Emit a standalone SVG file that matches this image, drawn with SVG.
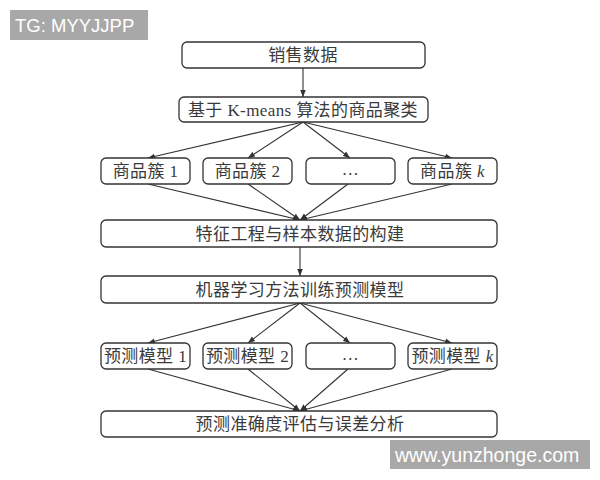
<svg xmlns="http://www.w3.org/2000/svg" width="600" height="480" viewBox="0 0 600 480">
<defs>
<style>
.box{fill:#fff;stroke:#333;stroke-width:1.3}
.t{font-family:"Liberation Serif","Noto Sans CJK SC",serif;font-size:17px;fill:#3a3a3a;text-anchor:middle;letter-spacing:0.4px}
.c{stroke:#333;stroke-width:1.1;fill:none}
.wm{fill:#a8a8a8}
.wt{font-family:"Liberation Sans",Arial,sans-serif;fill:#fff}
</style>
<marker id="ah" viewBox="0 0 10 10" refX="10" refY="5" markerWidth="7" markerHeight="7" orient="auto" markerUnits="userSpaceOnUse">
<path d="M0,1 L10,5 L0,9 Z" fill="#333"/>
</marker>
</defs>
<rect width="600" height="480" fill="#fff"/>
<g id="watermark-top"><rect class="wm" x="10" y="10" width="138" height="30"/><text class="wt" x="15" y="32" font-size="18.5">TG: MYYJJPP</text></g>
<g id="watermark-bottom"><rect class="wm" x="390" y="440" width="200" height="29"/><text class="wt" x="395" y="462" font-size="19.5">www.yunzhonge.com</text></g>
<g id="connectors">
<line class="c" x1="303" y1="68" x2="303" y2="97" marker-end="url(#ah)"/>
<line class="c" x1="303" y1="122" x2="148" y2="158" marker-end="url(#ah)"/>
<line class="c" x1="303" y1="122" x2="248" y2="158" marker-end="url(#ah)"/>
<line class="c" x1="303" y1="122" x2="350" y2="158" marker-end="url(#ah)"/>
<line class="c" x1="303" y1="122" x2="452" y2="158" marker-end="url(#ah)"/>
<line class="c" x1="148" y1="184" x2="300" y2="220" marker-end="url(#ah)"/>
<line class="c" x1="248" y1="184" x2="300" y2="220" marker-end="url(#ah)"/>
<line class="c" x1="348" y1="184" x2="300" y2="220" marker-end="url(#ah)"/>
<line class="c" x1="452" y1="184" x2="300" y2="220" marker-end="url(#ah)"/>
<line class="c" x1="300" y1="247" x2="300" y2="276" marker-end="url(#ah)"/>
<line class="c" x1="300" y1="303" x2="148" y2="343" marker-end="url(#ah)"/>
<line class="c" x1="300" y1="303" x2="248" y2="343" marker-end="url(#ah)"/>
<line class="c" x1="300" y1="303" x2="350" y2="343" marker-end="url(#ah)"/>
<line class="c" x1="300" y1="303" x2="452" y2="343" marker-end="url(#ah)"/>
<line class="c" x1="148" y1="369" x2="300" y2="411" marker-end="url(#ah)"/>
<line class="c" x1="248" y1="369" x2="300" y2="411" marker-end="url(#ah)"/>
<line class="c" x1="348" y1="369" x2="300" y2="411" marker-end="url(#ah)"/>
<line class="c" x1="452" y1="369" x2="300" y2="411" marker-end="url(#ah)"/>
</g>
<g id="n-sales"><rect class="box" x="182" y="42" width="243" height="26" rx="5"/><text class="t" x="303" y="61">销售数据</text></g>
<g id="n-kmeans"><rect class="box" x="179" y="97" width="249" height="25" rx="5"/><text class="t" x="303" y="115.5">基于 K-means 算法的商品聚类</text></g>
<g id="n-c1"><rect class="box" x="101" y="158" width="89" height="26" rx="5"/><text class="t" x="145.5" y="177">商品簇 1</text></g>
<g id="n-c2"><rect class="box" x="203" y="158" width="89" height="26" rx="5"/><text class="t" x="247.5" y="177">商品簇 2</text></g>
<g id="n-c3"><rect class="box" x="306" y="158" width="89" height="26" rx="5"/><text class="t" x="350.5" y="175">…</text></g>
<g id="n-ck"><rect class="box" x="408" y="158" width="89" height="26" rx="5"/><text class="t" x="452.5" y="177">商品簇 <tspan font-style="italic">k</tspan></text></g>
<g id="n-feature"><rect class="box" x="101" y="220" width="396" height="27" rx="5"/><text class="t" x="300" y="239.5">特征工程与样本数据的构建</text></g>
<g id="n-train"><rect class="box" x="101" y="276" width="396" height="27" rx="5"/><text class="t" x="300" y="295.5">机器学习方法训练预测模型</text></g>
<g id="n-m1"><rect class="box" x="101" y="343" width="89" height="26" rx="5"/><text class="t" x="145.5" y="362">预测模型 1</text></g>
<g id="n-m2"><rect class="box" x="203" y="343" width="89" height="26" rx="5"/><text class="t" x="247.5" y="362">预测模型 2</text></g>
<g id="n-m3"><rect class="box" x="306" y="343" width="89" height="26" rx="5"/><text class="t" x="350.5" y="360">…</text></g>
<g id="n-mk"><rect class="box" x="408" y="343" width="89" height="26" rx="5"/><text class="t" x="452.5" y="362">预测模型 <tspan font-style="italic">k</tspan></text></g>
<g id="n-eval"><rect class="box" x="101" y="411" width="396" height="26" rx="5"/><text class="t" x="300" y="430">预测准确度评估与误差分析</text></g>
</svg>
